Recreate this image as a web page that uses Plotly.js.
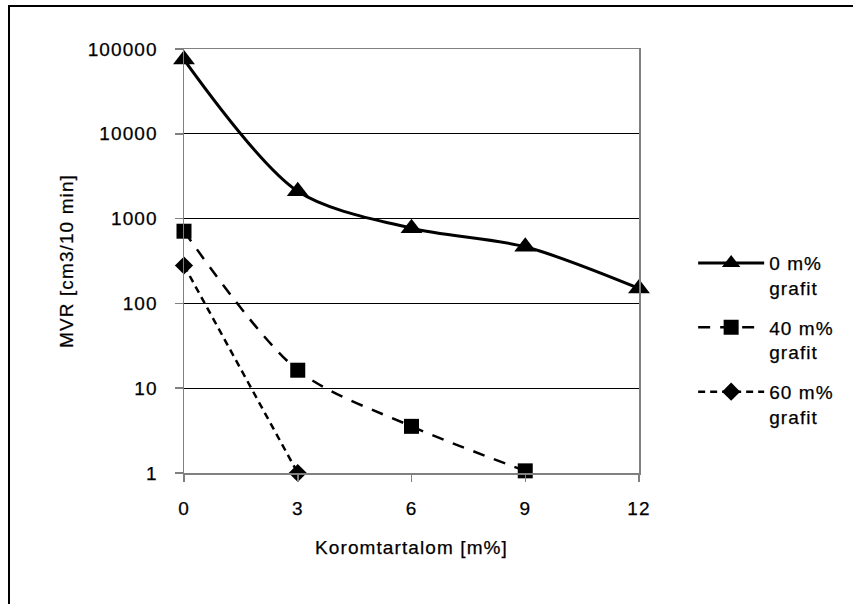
<!DOCTYPE html>
<html>
<head>
<meta charset="utf-8">
<script src="https://cdn.plot.ly/plotly-3.0.1.min.js"></script>
<style>
  html, body { margin: 0; padding: 0; background: #fff; }
  #wrap { position: relative; width: 853px; height: 604px; }
  #chart { width: 853px; height: 604px; }
  #frame { position: absolute; left: 8px; top: 5px; right: -10px; bottom: -10px;
           border-left: 2px solid #000; border-top: 2px solid #000; pointer-events: none; }
  .main-svg text { letter-spacing: 1.1px; stroke: #000; stroke-width: 0.25px; }
</style>
</head>
<body>
<div id="wrap">
  <div id="chart"></div>
  <div id="frame"></div>
</div>
<script>
// Data
const koromX = [0, 3, 6, 9, 12];
const grafit0 = [75000, 2100, 770, 465, 150];
const koromX40 = [0, 3, 6, 9];
const grafit40 = [710, 16.3, 3.55, 1.06];
const koromX60 = [0, 3];
const grafit60 = [280, 1];
const seriesNames = ['0 m%<br>grafit', '40 m%<br>grafit', '60 m%<br>grafit'];
const xTicks = [0, 3, 6, 9, 12];
const yTickVals = [1, 10, 100, 1000, 10000, 100000];
const yTickText = ['1', '10', '100', '1000', '10000', '100000'];

const traces = [
  {
    x: koromX, y: grafit0, name: seriesNames[0], legendgroup: 'a',
    type: 'scatter', mode: 'lines+markers', cliponaxis: false,
    line: { color: '#000', width: 3, shape: 'spline', smoothing: 0.85 },
    marker: { symbol: 'triangle-up', size: 19, color: '#000' }
  },
  {
    x: koromX40, y: grafit40, name: seriesNames[1], legendgroup: 'b',
    type: 'scatter', mode: 'lines+markers', cliponaxis: false,
    line: { color: '#000', width: 2.5, dash: '12px,10px', shape: 'spline', smoothing: 0.85 },
    marker: { symbol: 'square', size: 15, color: '#000' }
  },
  {
    x: koromX60, y: grafit60, name: seriesNames[2], legendgroup: 'c',
    type: 'scatter', mode: 'lines+markers', cliponaxis: false,
    line: { color: '#000', width: 2.5, dash: '7px,5px' },
    marker: { symbol: 'diamond', size: 14, color: '#000' }
  }
];

const layout = {
  width: 853, height: 604,
  margin: { l: 184, r: 213.5, t: 49, b: 131 },
  paper_bgcolor: '#fff', plot_bgcolor: '#fff',
  font: { family: '"Liberation Sans", Arial, sans-serif', size: 19, color: '#000' },
  showlegend: true,
  xaxis: {
    range: [0, 12], tickmode: 'array', tickvals: xTicks,
    showgrid: false, zeroline: false,
    showline: true, linecolor: '#808080', linewidth: 1.5, mirror: true,
    ticks: 'outside', ticklen: 7, tickcolor: '#808080', tickwidth: 1.5,
    ticklabelstandoff: 11,
    title: { text: 'Koromtartalom [m%]', standoff: 22, font: { size: 19 } }
  },
  yaxis: {
    type: 'log', range: [0, 5], tickmode: 'array',
    tickvals: yTickVals, ticktext: yTickText,
    showgrid: true, gridcolor: '#000', gridwidth: 1, zeroline: false,
    showline: true, linecolor: '#808080', linewidth: 1.5, mirror: true,
    ticks: 'outside', ticklen: 8, tickcolor: '#808080', tickwidth: 1.5,
    ticklabelstandoff: 13,
    title: { text: 'MVR [cm3/10 min]', standoff: 15, font: { size: 19 } }
  },
  legend: {
    x: 1.119, y: 0.54, xanchor: 'left', yanchor: 'top',
    bgcolor: 'rgba(0,0,0,0)', borderwidth: 0,
    itemwidth: 66, tracegroupgap: 12, valign: 'top',
    font: { size: 19 }
  }
};

Plotly.newPlot('chart', traces, layout, { displayModeBar: false, staticPlot: true });
</script>
</body>
</html>
